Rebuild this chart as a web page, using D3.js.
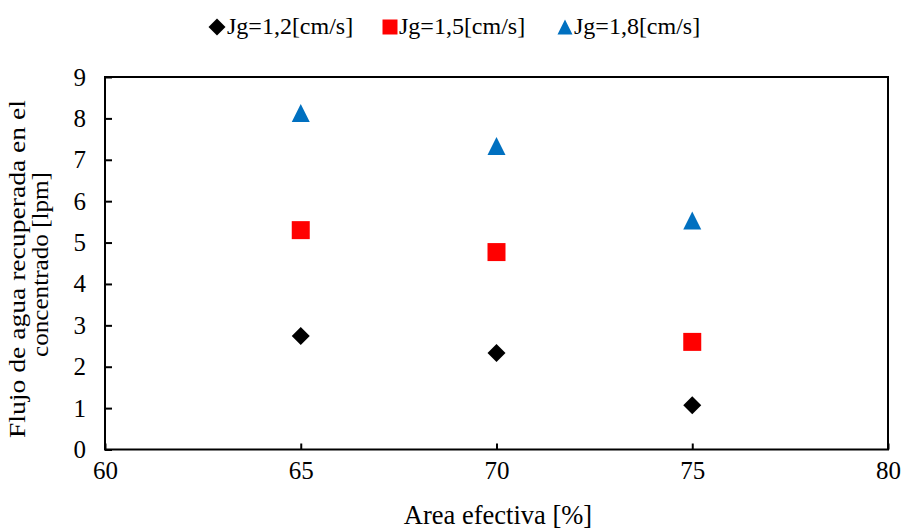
<!DOCTYPE html>
<html>
<head>
<meta charset="utf-8">
<script src="https://cdn.jsdelivr.net/npm/d3@7"></script>
<style>
  html, body { margin: 0; padding: 0; background: #fff; }
</style>
</head>
<body>
<svg id="chart" width="902" height="529"></svg>
<script>
// Effective area [%] for each test
const areas = [65, 70, 75];

// Recovered water flow in the concentrate [lpm] per superficial gas velocity
const jg12 = [2.74, 2.33, 1.07];
const jg15 = [5.30, 4.77, 2.60];
const jg18 = [8.13, 7.33, 5.53];

const seriesNames = ["Jg=1,2[cm/s]", "Jg=1,5[cm/s]", "Jg=1,8[cm/s]"];

const xTicks = [60, 65, 70, 75, 80];
const yTicks = [0, 1, 2, 3, 4, 5, 6, 7, 8, 9];

const FONT = '"Liberation Serif"';

const svg = d3.select("#chart");

const plot = { left: 105, right: 888, top: 77, bottom: 449.5 };

const x = d3.scaleLinear().domain([60, 80]).range([plot.left, plot.right]);
const y = d3.scaleLinear().domain([0, 9]).range([plot.bottom, plot.top]);

const series = [
  { name: seriesNames[0], values: jg12, color: "#000000", shape: "diamond" },
  { name: seriesNames[1], values: jg15, color: "#ff0000", shape: "square" },
  { name: seriesNames[2], values: jg18, color: "#0070c0", shape: "triangle" }
];

function markerPath(shape, s) {
  const h = s / 2;
  if (shape === "diamond") return `M0,${-h}L${h},0L0,${h}L${-h},0Z`;
  if (shape === "square") return `M${-h},${-h}H${h}V${h}H${-h}Z`;
  return `M0,${-h}L${h},${h}L${-h},${h}Z`;
}

// Axes with inward ticks
const xAxis = d3.axisBottom(x).tickValues(xTicks).tickSize(-6).tickPadding(12).tickFormat(d3.format("d"));
const yAxis = d3.axisLeft(y).tickValues(yTicks).tickSize(-7).tickPadding(19).tickFormat(d3.format("d"));

const gx = svg.append("g").attr("transform", `translate(0,${plot.bottom})`).call(xAxis);
const gy = svg.append("g").attr("transform", `translate(${plot.left},0)`).call(yAxis);

[gx, gy].forEach(g => {
  g.attr("font-family", null).attr("font-size", null);
  g.select(".domain").remove();
  g.selectAll(".tick line").attr("stroke", "#000").attr("stroke-width", 2);
  g.selectAll(".tick text")
    .style("font-family", FONT).style("font-size", "25px").attr("fill", "#000");
});
gx.selectAll(".tick text").attr("dy", "0.71em");

// Plot frame
svg.append("rect")
  .attr("x", plot.left).attr("y", plot.top)
  .attr("width", plot.right - plot.left).attr("height", plot.bottom - plot.top)
  .attr("fill", "none").attr("stroke", "#000").attr("stroke-width", 2);

// Data markers
series.forEach(s => {
  svg.append("g").selectAll("path")
    .data(s.values.map((v, i) => ({ a: areas[i], v })))
    .join("path")
    .attr("d", markerPath(s.shape, 18))
    .attr("transform", d => `translate(${x(d.a)},${y(d.v)})`)
    .attr("fill", s.color);
});

// Axis titles
svg.append("text")
  .attr("x", 498).attr("y", 524).attr("text-anchor", "middle")
  .style("font-family", FONT).style("font-size", "26.5px").attr("fill", "#000")
  .text("Area efectiva [%]");

const yTitle = svg.append("text")
  .attr("transform", `rotate(-90)`)
  .style("font-family", FONT).style("font-size", "24px").attr("fill", "#000");
yTitle.append("tspan").attr("x", -438).attr("y", 25)
  .attr("textLength", 338).attr("lengthAdjust", "spacingAndGlyphs")
  .text("Flujo de agua recuperada en el");
yTitle.append("tspan").attr("x", -357).attr("y", 48)
  .attr("textLength", 185).attr("lengthAdjust", "spacingAndGlyphs")
  .text("concentrado [lpm]");

// Legend
const legendX = [217, 390, 565];
const legendTextStart = [227, 399, 574];
const legend = svg.append("g");
series.forEach((s, i) => {
  legend.append("path")
    .attr("d", markerPath(s.shape, s.shape === "diamond" ? 17 : 15))
    .attr("transform", `translate(${legendX[i]},27)`)
    .attr("fill", s.color);
  legend.append("text")
    .attr("x", legendTextStart[i]).attr("y", 34)
    .style("font-family", FONT).style("font-size", "24px").attr("fill", "#000")
    .text(s.name);
});
</script>
</body>
</html>
